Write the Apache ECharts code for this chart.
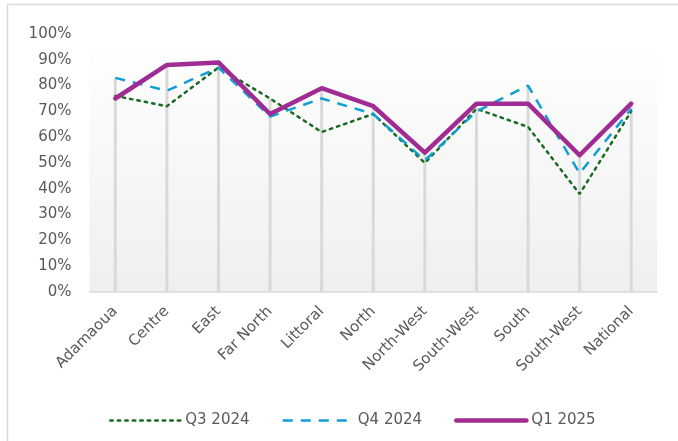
<!DOCTYPE html>
<html>
<head>
<meta charset="utf-8">
<script src="https://cdn.jsdelivr.net/npm/echarts@6/dist/echarts.min.js"></script>
<style>
html,body{margin:0;padding:0;background:#fff;}
#chart{width:678px;height:441px;}
</style>
</head>
<body>
<div id="chart"></div>
<script>
var categories = ['Adamaoua','Centre','East','Far North','Littoral','North','North-West','South-West','South','South-West','National'];
var q3_2024 = [76, 72, 87, 75, 62, 69, 50, 71, 64, 38, 70];
var q4_2024 = [83, 78, 87, 68, 75, 69, 51, 70, 80, 46, 71];
var q1_2025 = [75, 88, 89, 69, 79, 72, 54, 73, 73, 53, 73];
var seriesNames = ['Q3 2024', 'Q4 2024', 'Q1 2025'];

var dropLines = categories.map(function (c, i) {
  return Math.max(q3_2024[i], q4_2024[i], q1_2025[i]);
});

var FONT = 'DejaVu Sans';
var chart = echarts.init(document.getElementById('chart'), null, {renderer: 'canvas'});
chart.setOption({
  animation: false,
  backgroundColor: '#ffffff',
  textStyle: {fontFamily: FONT},
  graphic: [{
    type: 'rect',
    silent: true,
    shape: {x: 7.5, y: 4.5, width: 800, height: 600},
    style: {fill: 'none', stroke: '#d9d9d9', lineWidth: 1.5}
  }],
  grid: {
    left: 89.5, right: 21, top: 34, bottom: 149,
    show: true, borderWidth: 0,
    backgroundColor: {
      type: 'linear', x: 0, y: 0, x2: 0, y2: 1,
      colorStops: [
        {offset: 0, color: '#ffffff'},
        {offset: 0.13, color: '#fdfdfd'},
        {offset: 1, color: '#efefef'}
      ]
    }
  },
  legend: {
    left: 104, top: 408,
    itemWidth: 70, itemHeight: 14, itemGap: 32,
    data: seriesNames,
    itemStyle: {opacity: 0},
    lineStyle: {width: 'inherit'},
    textStyle: {fontFamily: FONT, fontSize: 15, color: '#595959'}
  },
  xAxis: {
    type: 'category',
    data: categories,
    boundaryGap: true,
    axisLine: {show: true, lineStyle: {color: '#d9d9d9', width: 1.5}},
    axisTick: {show: false},
    splitLine: {show: false},
    axisLabel: {
      interval: 0, rotate: 45, margin: 17,
      fontFamily: FONT, fontSize: 15, color: '#595959'
    }
  },
  yAxis: {
    type: 'value',
    min: 0, max: 100, interval: 10,
    axisLine: {show: false},
    axisTick: {show: false},
    splitLine: {show: false},
    axisLabel: {
      formatter: '{value}%', margin: 18,
      fontFamily: FONT, fontSize: 15, color: '#595959'
    }
  },
  series: [
    {
      name: 'drop',
      type: 'bar',
      data: dropLines,
      barWidth: 3,
      itemStyle: {color: '#d9d9d9'},
      silent: true,
      z: 1
    },
    {
      name: seriesNames[0],
      type: 'line',
      data: q3_2024,
      symbol: 'none',
      color: '#196B24',
      lineStyle: {color: '#196B24', width: 2.5, type: [2.5, 5], cap: 'round'},
      z: 3
    },
    {
      name: seriesNames[1],
      type: 'line',
      data: q4_2024,
      symbol: 'none',
      color: '#0F9ED5',
      lineStyle: {color: '#0F9ED5', width: 2.5, type: [10, 8]},
      z: 4
    },
    {
      name: seriesNames[2],
      type: 'line',
      data: q1_2025,
      symbol: 'none',
      color: '#A02B93',
      lineStyle: {color: '#A02B93', width: 4.5, cap: 'round', join: 'round'},
      z: 5
    }
  ]
});
</script>
</body>
</html>
